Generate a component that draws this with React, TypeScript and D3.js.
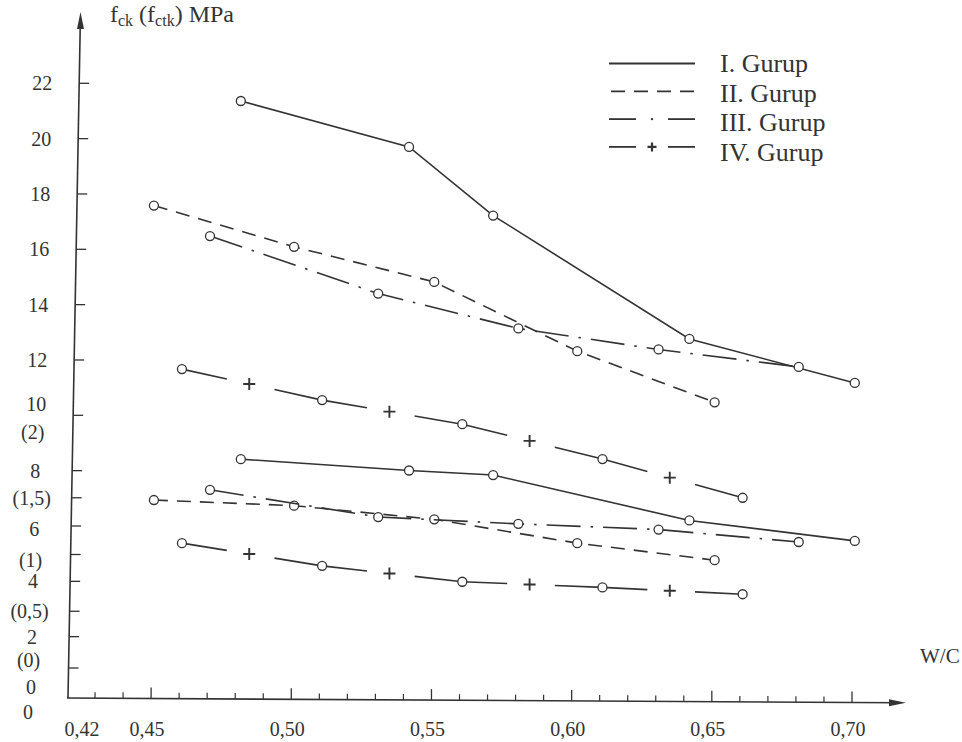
import React from 'react';
import * as d3 from 'd3';

// ---- data ----
const wcGroupI = [0.482, 0.542, 0.572, 0.642, 0.701];
const fckGroupI = [21.36, 19.7, 17.22, 12.76, 11.17];
const fctkGroupI = [1.84, 1.74, 1.7, 1.3, 1.12];

const wcGroupII = [0.451, 0.501, 0.551, 0.602, 0.651];
const fckGroupII = [17.58, 16.09, 14.82, 12.32, 10.47];
const fctkGroupII = [1.48, 1.43, 1.31, 1.1, 0.95];

const wcGroupIII = [0.471, 0.531, 0.581, 0.631, 0.681];
const fckGroupIII = [16.48, 14.4, 13.14, 12.38, 11.75];
const fctkGroupIII = [1.57, 1.33, 1.27, 1.22, 1.11];

const wcGroupIV = [0.461, 0.511, 0.561, 0.611, 0.661];
const fckGroupIV = [11.67, 10.55, 9.68, 8.42, 7.02];
const fctkGroupIV = [1.1, 0.9, 0.76, 0.71, 0.65];

const groupNames = ['I. Gurup', 'II. Gurup', 'III. Gurup', 'IV. Gurup'];
const groupStyles = ['solid', 'dashed', 'dashdot', 'plus'];

const xMajorTicks = [0.45, 0.5, 0.55, 0.6, 0.65, 0.7];
const xLabelValues = [0.42, 0.45, 0.5, 0.55, 0.6, 0.65, 0.7];
const xLabelTexts = ['0,42', '0,45', '0,50', '0,55', '0,60', '0,65', '0,70'];
const yTickValues = [2, 4, 6, 8, 10, 12, 14, 16, 18, 20, 22];
const yLabelValues = [22, 20, 18, 16, 14, 12, 10, 8, 6, 4, 2, 0];
const ctkTickValues = [0, 0.5, 1, 1.5];
const ctkLabelValues = [2, 1.5, 1, 0.5, 0];
const ctkLabelTexts = ['(2)', '(1,5)', '(1)', '(0,5)', '(0)'];

const INK = '#333';
const FONT = "'Liberation Serif', 'Times New Roman', serif";

// scales
const x = d3.scaleLinear().domain([0.42, 0.7]).range([67, 852]);
const yP = d3.scaleLinear().domain([0, 22]).range([692, 83.3]);
const yS = d3.scaleLinear().domain([0, 2]).range([668, 441]);

// slightly skewed hand-drawn axes
const axisXAt = (yy: number) => 68 + (698 - yy) * 0.0182;
const axisYAt = (xx: number) => 698 + (xx - 67) * 0.0058;

type Pt = [number, number];

function Series({ pts, style }: { pts: Pt[]; style: string }) {
  const line = d3.line<Pt>().x((d) => d[0]).y((d) => d[1]);
  const common = { fill: 'none', stroke: INK, strokeWidth: 1.6 };
  let path: React.ReactNode = null;
  if (style === 'solid') path = <path d={line(pts) || ''} {...common} />;
  if (style === 'dashed') path = <path d={line(pts) || ''} {...common} strokeDasharray="14 9" />;
  if (style === 'dashdot') path = <path d={line(pts) || ''} {...common} strokeDasharray="34 10 2.5 10" />;
  if (style === 'plus') {
    const segs: React.ReactNode[] = [];
    for (let i = 0; i < pts.length - 1; i++) {
      const a = pts[i];
      const b = pts[i + 1];
      const at = (t: number): Pt => [a[0] + (b[0] - a[0]) * t, a[1] + (b[1] - a[1]) * t];
      const m = at(0.48);
      segs.push(<path key={'a' + i} d={line([a, at(0.32)]) || ''} {...common} />);
      segs.push(<path key={'b' + i} d={line([at(0.66), b]) || ''} {...common} />);
      segs.push(
        <path key={'p' + i} d={`M${m[0] - 6},${m[1]}H${m[0] + 6}M${m[0]},${m[1] - 6}V${m[1] + 6}`} stroke={INK} strokeWidth={1.9} fill="none" />
      );
    }
    path = <g>{segs}</g>;
  }
  return (
    <g>
      {path}
      {pts.map((p, i) => (
        <circle key={i} cx={p[0]} cy={p[1]} r={4.5} fill="#fff" stroke={INK} strokeWidth={1.3} />
      ))}
    </g>
  );
}

export default function App() {
  const upper: Pt[][] = [
    wcGroupI.map((w, i) => [x(w), yP(fckGroupI[i])] as Pt),
    wcGroupII.map((w, i) => [x(w), yP(fckGroupII[i])] as Pt),
    wcGroupIII.map((w, i) => [x(w), yP(fckGroupIII[i])] as Pt),
    wcGroupIV.map((w, i) => [x(w), yP(fckGroupIV[i])] as Pt),
  ];
  const lower: Pt[][] = [
    wcGroupI.map((w, i) => [x(w), yS(fctkGroupI[i])] as Pt),
    wcGroupII.map((w, i) => [x(w), yS(fctkGroupII[i])] as Pt),
    wcGroupIII.map((w, i) => [x(w), yS(fctkGroupIII[i])] as Pt),
    wcGroupIV.map((w, i) => [x(w), yS(fctkGroupIV[i])] as Pt),
  ];

  const minorTicks = d3.range(43, 71).map((i) => i / 100).filter((v) => !xMajorTicks.some((m) => Math.abs(m - v) < 1e-6));

  const yTop = 12;
  const xTip = 906;

  // legend
  const legendX0 = 609;
  const legendX1 = 695;
  const legendTextX = 720;

  const textStyle = { fontFamily: FONT };

  return (
    <svg width={962} height={742} style={{ position: 'absolute', left: 0, top: 0, background: '#fff', fontFamily: FONT }}>
      <rect width={962} height={742} fill="#fff" />
      {/* axes */}
      <line x1={axisXAt(698)} y1={698} x2={axisXAt(yTop + 10)} y2={yTop + 10} stroke={INK} strokeWidth={1.6} />
      <path d={`M${axisXAt(yTop)},${yTop} L${axisXAt(yTop) - 3.5},${yTop + 17} L${axisXAt(yTop) + 3.5},${yTop + 17} Z`} fill={INK} />
      <line x1={67} y1={axisYAt(67)} x2={xTip - 8} y2={axisYAt(xTip - 8)} stroke={INK} strokeWidth={1.6} />
      <path d={`M${xTip},${axisYAt(xTip)} L${xTip - 17},${axisYAt(xTip) - 3.5} L${xTip - 17},${axisYAt(xTip) + 3.5} Z`} fill={INK} />

      {/* y ticks */}
      {yTickValues.map((v) => {
        const yy = yP(v);
        const xx = axisXAt(yy);
        return <line key={'yt' + v} x1={xx} y1={yy} x2={xx + 10} y2={yy} stroke={INK} strokeWidth={1.3} />;
      })}
      {ctkTickValues.map((v) => {
        const yy = yS(v);
        const xx = axisXAt(yy);
        return <line key={'ct' + v} x1={xx} y1={yy} x2={xx + 10} y2={yy} stroke={INK} strokeWidth={1.3} />;
      })}
      {/* y labels */}
      {yLabelValues.map((v) => {
        const yy = yP(v);
        const dy = v === 10 ? -4 : v === 6 ? 10 : v === 0 ? 2 : 7;
        return (
          <text key={'yl' + v} x={axisXAt(yy) - 37} y={yy + dy} textAnchor="middle" fontSize={20} fill={INK} style={textStyle}>
            {String(v)}
          </text>
        );
      })}
      {ctkLabelValues.map((v, i) => {
        const yy = yS(v);
        const dy = v === 2 ? -2 : v === 1 ? 12 : v === 0 ? -1 : 7;
        return (
          <text key={'cl' + v} x={axisXAt(yy) - 40} y={yy + dy} textAnchor="middle" fontSize={20} fill={INK} style={textStyle}>
            {ctkLabelTexts[i]}
          </text>
        );
      })}
      <text x={axisXAt(698) - 40} y={719} textAnchor="middle" fontSize={20} fill={INK} style={textStyle}>0</text>

      {/* x ticks */}
      {xMajorTicks.map((v) => {
        const xx = x(v);
        const yy = axisYAt(xx);
        return <line key={'xM' + v} x1={xx} y1={yy} x2={xx} y2={yy - 11} stroke={INK} strokeWidth={1.3} />;
      })}
      {minorTicks.map((v) => {
        const xx = x(v);
        const yy = axisYAt(xx);
        return <line key={'xm' + v} x1={xx} y1={yy} x2={xx} y2={yy - 6} stroke={INK} strokeWidth={1.2} />;
      })}
      {xLabelValues.map((v, i) => (
        <text key={'xl' + v} x={x(v) + (v === 0.42 ? 15 : -4)} y={736} textAnchor="middle" fontSize={20} fill={INK} style={textStyle}>
          {xLabelTexts[i]}
        </text>
      ))}

      {/* axis titles */}
      <text x={110} y={22} fontSize={24} fill={INK} style={textStyle}>
        f<tspan fontSize={16} dy={4}>ck</tspan>
        <tspan dy={-4}> (f</tspan>
        <tspan fontSize={16} dy={4}>ctk</tspan>
        <tspan dy={-4}>) MPa</tspan>
      </text>
      <text x={920} y={663} fontSize={21} fill={INK} style={textStyle}>W/C</text>

      {/* series */}
      {lower.map((pts, i) => (
        <Series key={'lo' + i} pts={pts} style={groupStyles[i]} />
      ))}
      {upper.map((pts, i) => (
        <Series key={'up' + i} pts={pts} style={groupStyles[i]} />
      ))}

      {/* legend */}
      {groupNames.map((name, i) => {
        const ly = 63.5 + i * 27.8;
        const ty = 72 + i * 29.7;
        const st = groupStyles[i];
        const common = { stroke: INK, strokeWidth: 1.8, fill: 'none' };
        const mid = (legendX0 + legendX1) / 2;
        let sample: React.ReactNode;
        if (st === 'solid') sample = <line x1={legendX0} y1={ly} x2={legendX1} y2={ly} {...common} />;
        else if (st === 'dashed') sample = <line x1={legendX0 + 2} y1={ly} x2={legendX1} y2={ly} {...common} strokeDasharray="14 9" />;
        else if (st === 'dashdot')
          sample = (
            <g>
              <line x1={legendX0} y1={ly} x2={legendX0 + 27} y2={ly} {...common} />
              <circle cx={mid} cy={ly} r={1.2} fill={INK} />
              <line x1={legendX1 - 27} y1={ly} x2={legendX1} y2={ly} {...common} />
            </g>
          );
        else
          sample = (
            <g>
              <line x1={legendX0} y1={ly} x2={legendX0 + 27} y2={ly} {...common} />
              <path d={`M${mid - 4.5},${ly}H${mid + 4.5}M${mid},${ly - 4.5}V${ly + 4.5}`} stroke={INK} strokeWidth={2.2} />
              <line x1={legendX1 - 27} y1={ly} x2={legendX1} y2={ly} {...common} />
            </g>
          );
        return (
          <g key={name}>
            {sample}
            <text x={legendTextX} y={ty} fontSize={26} fill={INK} style={textStyle}>
              {name}
            </text>
          </g>
        );
      })}
    </svg>
  );
}
